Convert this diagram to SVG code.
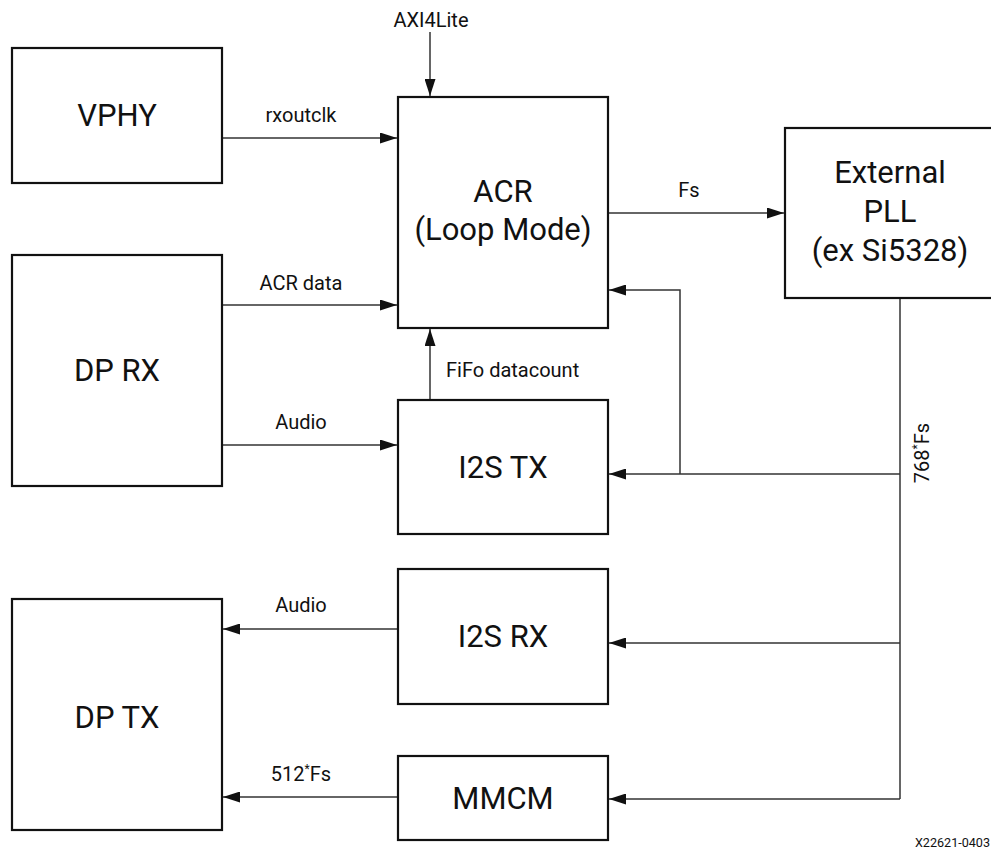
<svg xmlns="http://www.w3.org/2000/svg" width="991" height="852" viewBox="0 0 991 852">
<style>
.box{fill:#fff;stroke:#111;stroke-width:2.2}
.big{font-family:Roboto,"Liberation Sans",sans-serif;font-size:31px;fill:#111;text-anchor:middle}
.lbl{font-family:Roboto,"Liberation Sans",sans-serif;font-size:20px;fill:#111;text-anchor:middle}
.wire{fill:none;stroke:#333;stroke-width:1.5}
</style>
<defs>
<marker id="arr" markerUnits="userSpaceOnUse" markerWidth="17" markerHeight="11" refX="17" refY="5.5" orient="auto">
<path d="M0,0 L17,5.5 L0,11 z" fill="#111"/>
</marker>
</defs>
<rect width="991" height="852" fill="#fff"/>
<g id="connectors">
<line class="wire" x1="430" y1="32" x2="430" y2="96" marker-end="url(#arr)"/>
<line class="wire" x1="222" y1="138" x2="397" y2="138" marker-end="url(#arr)"/>
<line class="wire" x1="222" y1="305" x2="397" y2="305" marker-end="url(#arr)"/>
<line class="wire" x1="222" y1="445" x2="397" y2="445" marker-end="url(#arr)"/>
<line class="wire" x1="430" y1="400" x2="430" y2="329" marker-end="url(#arr)"/>
<line class="wire" x1="608" y1="213" x2="784" y2="213" marker-end="url(#arr)"/>
<line class="wire" x1="900" y1="298" x2="900" y2="799"/>
<line class="wire" x1="900" y1="474" x2="609" y2="474" marker-end="url(#arr)"/>
<polyline class="wire" points="680,474 680,290 609,290" marker-end="url(#arr)"/>
<line class="wire" x1="900" y1="643" x2="609" y2="643" marker-end="url(#arr)"/>
<line class="wire" x1="900" y1="799" x2="609" y2="799" marker-end="url(#arr)"/>
<line class="wire" x1="398" y1="629" x2="223" y2="629" marker-end="url(#arr)"/>
<line class="wire" x1="398" y1="797" x2="223" y2="797" marker-end="url(#arr)"/>
<text class="lbl" x="431" y="27">AXI4Lite</text>
<text class="lbl" x="301" y="122">rxoutclk</text>
<text class="lbl" x="301" y="290">ACR data</text>
<text class="lbl" x="301" y="429">Audio</text>
<text class="lbl" x="446" y="377" style="text-anchor:start">FiFo datacount</text>
<text class="lbl" x="689" y="197">Fs</text>
<text class="lbl" x="301" y="612">Audio</text>
<text class="lbl" x="301" y="781">512<tspan font-size="12" dy="-8">*</tspan><tspan dy="8">Fs</tspan></text>
<text class="lbl" transform="translate(929,453) rotate(-90)">768<tspan font-size="12" dy="-8">*</tspan><tspan dy="8">Fs</tspan></text>
</g>
<g id="vphy"><rect class="box" x="12" y="48" width="210" height="135"/><text class="big" x="117" y="126">VPHY</text></g>
<g id="dprx"><rect class="box" x="12" y="255" width="210" height="231"/><text class="big" x="117" y="381">DP RX</text></g>
<g id="dptx"><rect class="box" x="12" y="599" width="210" height="231"/><text class="big" x="117" y="728">DP TX</text></g>
<g id="acr"><rect class="box" x="398" y="97" width="210" height="231"/><text class="big" x="503" y="202">ACR</text><text class="big" x="503" y="240">(Loop Mode)</text></g>
<g id="i2stx"><rect class="box" x="398" y="400" width="210" height="134"/><text class="big" x="503" y="478">I2S TX</text></g>
<g id="i2srx"><rect class="box" x="398" y="569" width="210" height="135"/><text class="big" x="503" y="647">I2S RX</text></g>
<g id="mmcm"><rect class="box" x="398" y="756" width="210" height="84"/><text class="big" x="503" y="809">MMCM</text></g>
<g id="pll"><rect class="box" x="785" y="128" width="210" height="170"/><text class="big" x="890" y="183">External</text><text class="big" x="890" y="222">PLL</text><text class="big" x="890" y="261">(ex Si5328)</text></g>
<text x="990" y="847" font-family="Roboto,'Liberation Sans',sans-serif" font-size="12.6" fill="#111" text-anchor="end">X22621-0403</text>
</svg>
